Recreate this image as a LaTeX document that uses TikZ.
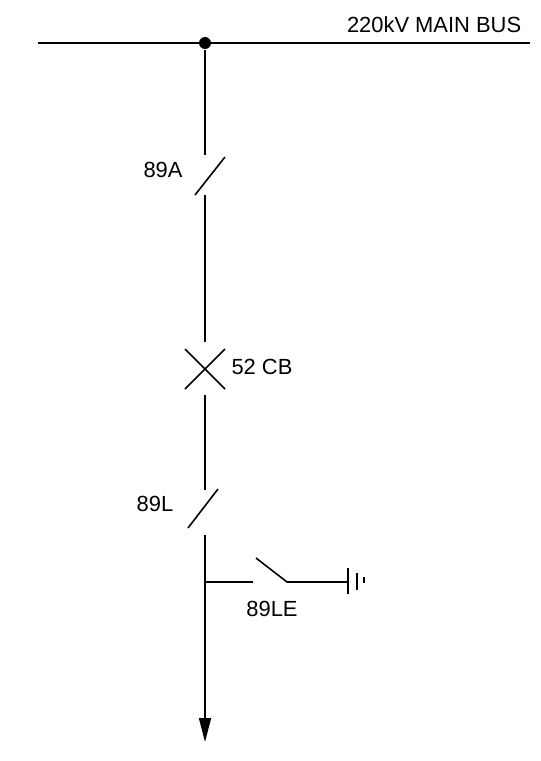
\documentclass[tikz,border=0pt]{standalone}
\usepackage{fontspec}
\setmainfont{Liberation Sans}
\usetikzlibrary{arrows.meta}
\begin{document}
\begin{tikzpicture}[x=1bp, y=-1bp, line width=1.6bp]
    \tikzstyle{lbl}=[font=\fontsize{22}{26}\selectfont, inner sep=0pt]
    \tikzstyle{junction}=[circle, fill=black, minimum size=12bp, inner sep=0pt]
    \useasboundingbox (0,0) rectangle (541,761);
    % main bus
    \coordinate (b1) at (38,43);
    \coordinate (b2) at (530,43);
    \node[junction] (j1) at (205,43){};
    \node[lbl, anchor=base east] (bus) at (522,33){220kV MAIN BUS};
    \draw (b1) -- (b2);
    % 89A
    \coordinate (a1) at (205,155);
    \coordinate (a2) at (195,195);
    \coordinate (a3) at (225,157);
    \coordinate (a4) at (205,195);
    \node[lbl] (l89a) at (163,170){89A};
    \draw (j1) -- (a1);
    \draw (a2) -- (a3);
    % 52 CB
    \coordinate (c1) at (205,342);
    \coordinate (cb) at (205,369);
    \coordinate (c2) at (205,395);
    \node[lbl] (l52) at (262,367){52 CB};
    \draw (a4) -- (c1);
    \draw (185,349) -- (225,389) (185,389) -- (225,349);
    % 89L
    \coordinate (d1) at (205,490);
    \coordinate (d2) at (188,528);
    \coordinate (d3) at (218,489);
    \coordinate (d4) at (205,535);
    \node[lbl] (l89l) at (155,504){89L};
    \draw (c2) -- (d1);
    \draw (d2) -- (d3);
    % 89LE earth switch
    \coordinate (j2) at (205,582);
    \coordinate (e1) at (253,582);
    \coordinate (e2) at (256,558);
    \coordinate (e3) at (287,582);
    \coordinate (g1) at (348,582);
    \node[lbl] (l89le) at (272,609){89LE};
    \draw (j2) -- (e1);
    \draw (e2) -- (e3) -- (g1);
    \draw (348,568) -- (348,594);
    \draw (357,573) -- (357,590);
    \draw (364,577) -- (364,583);
    % outgoing feeder
    \coordinate (out) at (205,742);
    \draw[-{Triangle[width=12bp, length=24bp]}] (d4) -- (out);
  \end{tikzpicture}
\end{document}
